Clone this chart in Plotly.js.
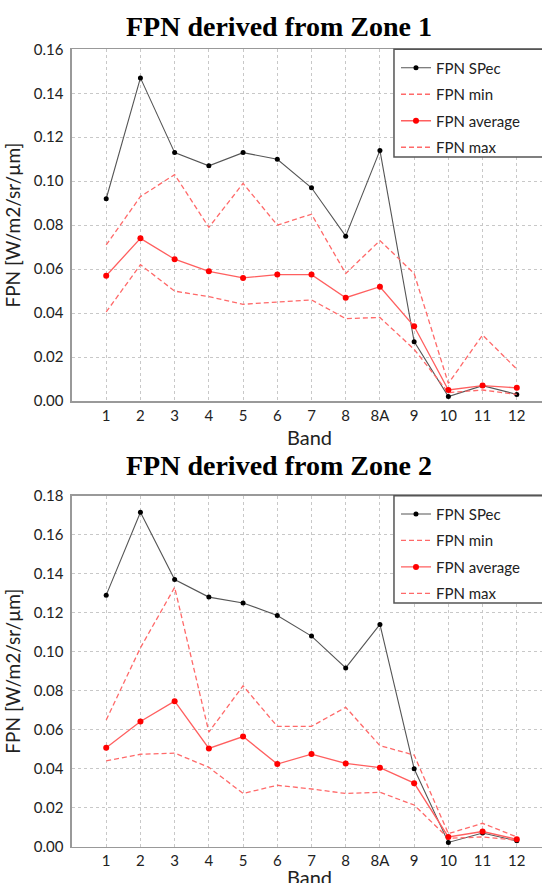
<!DOCTYPE html>
<html>
<head>
<meta charset="utf-8">
<script src="https://cdn.plot.ly/plotly-3.0.1.min.js"></script>
<style>
html,body{margin:0;padding:0;overflow:hidden;background:#fff;}
#chart{width:551px;height:900px;}
</style>
</head>
<body>
<div id="chart"></div>
<script>
const bands = ['1','2','3','4','5','6','7','8','8A','9','10','11','12'];

// Zone 1
const specZ1 = [0.092, 0.147, 0.113, 0.107, 0.113, 0.110, 0.097, 0.075, 0.114, 0.027, 0.002, 0.007, 0.003];
const minZ1  = [0.0405, 0.062, 0.050, 0.0475, 0.044, 0.045, 0.046, 0.0375, 0.038, 0.0235, 0.0038, 0.005, 0.003];
const avgZ1  = [0.057, 0.074, 0.0645, 0.059, 0.056, 0.0575, 0.0575, 0.047, 0.052, 0.034, 0.005, 0.007, 0.006];
const maxZ1  = [0.071, 0.093, 0.103, 0.079, 0.099, 0.080, 0.085, 0.058, 0.073, 0.058, 0.008, 0.030, 0.0145];

// Zone 2
const specZ2 = [0.129, 0.1715, 0.137, 0.128, 0.125, 0.1186, 0.108, 0.0917, 0.114, 0.040, 0.0022, 0.007, 0.003];
const minZ2  = [0.044, 0.0474, 0.048, 0.0407, 0.0273, 0.0315, 0.0296, 0.0273, 0.0279, 0.0214, 0.0043, 0.005, 0.0034];
const avgZ2  = [0.0508, 0.0642, 0.0746, 0.0504, 0.0565, 0.0424, 0.0475, 0.0427, 0.0405, 0.0326, 0.005, 0.0078, 0.0038];
const maxZ2  = [0.065, 0.102, 0.133, 0.0588, 0.0825, 0.0617, 0.0617, 0.0715, 0.0518, 0.047, 0.0067, 0.012, 0.005];

const seriesNames = ['FPN SPec', 'FPN min', 'FPN average', 'FPN max'];
const titles = ['FPN derived from Zone 1', 'FPN derived from Zone 2'];
const yTitle = 'FPN [W/m2/sr/\u00b5m]';
const xTitle = 'Band';

const FONT = 'Lato, "Open Sans", sans-serif';
const lineRed = 'rgb(255,95,95)';
const dashRed = 'rgb(255,105,105)';
const DASH = '5px,3px';

function zoneTraces(spec, mn, avg, mx, xa, ya, leg) {
  return [
    {x: bands, y: spec, name: seriesNames[0], xaxis: xa, yaxis: ya, legend: leg, legendgroup: leg+'a',
     mode: 'lines+markers', line: {color: '#555', width: 1.1}, marker: {color: '#000', size: 5}},
    {x: bands, y: mn, name: seriesNames[1], xaxis: xa, yaxis: ya, legend: leg, legendgroup: leg+'b',
     mode: 'lines', line: {color: dashRed, width: 1.3, dash: DASH}},
    {x: bands, y: avg, name: seriesNames[2], xaxis: xa, yaxis: ya, legend: leg, legendgroup: leg+'c',
     mode: 'lines+markers', line: {color: lineRed, width: 1.3}, marker: {color: '#f00', size: 6}},
    {x: bands, y: mx, name: seriesNames[3], xaxis: xa, yaxis: ya, legend: leg, legendgroup: leg+'d',
     mode: 'lines', line: {color: dashRed, width: 1.3, dash: DASH}}
  ];
}

const data = [].concat(
  zoneTraces(specZ1, minZ1, avgZ1, maxZ1, 'x', 'y', 'legend'),
  zoneTraces(specZ2, minZ2, avgZ2, maxZ2, 'x2', 'y2', 'legend2')
);

function xAxis(anchor) {
  return {
    type: 'category', range: [-1, 13], domain: [0, 1], anchor: anchor,
    showgrid: true, gridcolor: '#c8c8c8', griddash: 'dot', gridwidth: 1,
    showline: true, linecolor: '#999', linewidth: 1.6, mirror: true,
    zeroline: false, ticks: '',
    tickfont: {family: FONT, size: 15, color: '#222'}
  };
}
function yAxis(anchor, domain, top) {
  return {
    range: [0, top], dtick: 0.02, tickformat: '.2f', domain: domain, anchor: anchor,
    showgrid: true, gridcolor: '#c8c8c8', griddash: 'dot', gridwidth: 1,
    showline: true, linecolor: '#999', linewidth: 1.6, mirror: true,
    zeroline: false, ticks: '', ticklabelstandoff: 4,
    tickfont: {family: FONT, size: 15, color: '#222'},
    title: {text: yTitle, font: {family: FONT, size: 19, color: '#222'}, standoff: 8}
  };
}
function legendOpts(y) {
  return {
    x: 0.6764, y: y, xanchor: 'left', yanchor: 'top',
    bgcolor: 'rgba(0,0,0,0)', borderwidth: 0,
    font: {family: FONT, size: 15, color: '#222'},
    tracegroupgap: 4
  };
}
function legendBox(y0, y1) {
  return {type: 'rect', xref: 'paper', yref: 'paper', x0: 0.6722, x1: 1.05, y0: y0, y1: y1,
          fillcolor: '#fff', line: {color: '#555', width: 1.5}, layer: 'above'};
}
function chartTitle(text, y) {
  return {text: '<b>' + text + '</b>', xref: 'paper', yref: 'paper', x: 0.432, y: y,
          xanchor: 'center', yanchor: 'middle', showarrow: false,
          font: {family: '"Liberation Serif", "DejaVu Serif", serif', size: 28, color: '#000'}};
}
function bandTitle(y) {
  return {text: xTitle, xref: 'paper', yref: 'paper', x: 0.4948, y: y,
          xanchor: 'center', yanchor: 'middle', showarrow: false,
          font: {family: FONT, size: 20, color: '#222'}};
}

const layout = {
  width: 551, height: 900,
  margin: {l: 72, r: 0, t: 0, b: 0},
  paper_bgcolor: '#fff', plot_bgcolor: '#fff',
  xaxis: xAxis('y'),
  yaxis: yAxis('x', [0.55444, 0.94522], 0.16),
  xaxis2: xAxis('y2'),
  yaxis2: yAxis('x2', [0.05922, 0.44922], 0.18),
  legend: legendOpts(0.9428),
  legend2: legendOpts(0.4470),
  shapes: [legendBox(0.82556, 0.94522), legendBox(0.33, 0.44922)],
  annotations: [
    chartTitle(titles[0], 0.97044),
    chartTitle(titles[1], 0.48333),
    bandTitle(0.51444),
    bandTitle(0.02556)
  ]
};

Plotly.newPlot('chart', data, layout, {staticPlot: true, displayModeBar: false});
</script>
</body>
</html>
